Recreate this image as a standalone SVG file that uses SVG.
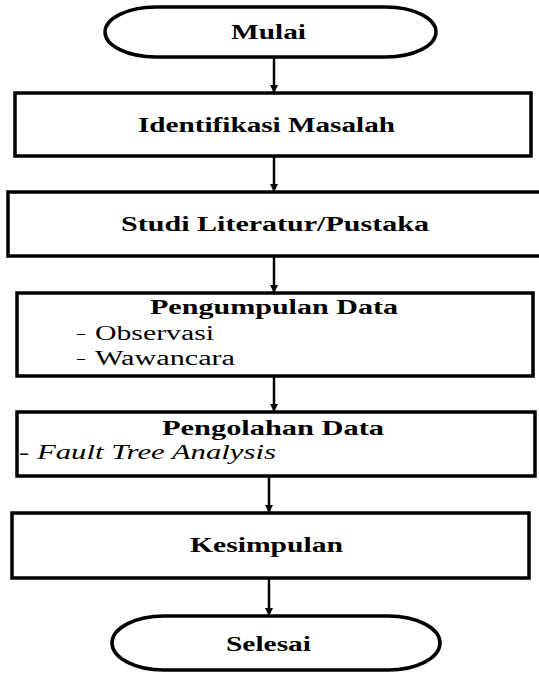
<svg xmlns="http://www.w3.org/2000/svg" width="539" height="673" viewBox="0 0 539 673">
<style>
.box{fill:#fff;stroke:#000;stroke-width:3.5}
.t{font-family:"Liberation Serif","Times New Roman",serif;font-size:20px;fill:#000}
.b{font-weight:bold}
.i{font-style:italic}
.con{stroke:#000;stroke-width:2.5;fill:none}
</style>
<defs>
<marker id="ah" markerWidth="8" markerHeight="8" refX="7" refY="4" orient="auto" markerUnits="userSpaceOnUse">
<path d="M0,0 L8,4 L0,8 Z" fill="#000"/>
</marker>
</defs>
<rect width="539" height="673" fill="#fff"/>
<g id="connectors">
<line class="con" x1="274" y1="57" x2="274" y2="92" marker-end="url(#ah)"/>
<line class="con" x1="274" y1="156" x2="274" y2="191" marker-end="url(#ah)"/>
<line class="con" x1="274" y1="256" x2="274" y2="292" marker-end="url(#ah)"/>
<line class="con" x1="274" y1="376" x2="274" y2="411" marker-end="url(#ah)"/>
<line class="con" x1="269" y1="476" x2="269" y2="512" marker-end="url(#ah)"/>
<line class="con" x1="269" y1="578" x2="269" y2="615" marker-end="url(#ah)"/>
</g>
<g id="mulai">
<path class="box" d="M156,7 H386 A50,25 0 0 1 386,57 H156 A51,25 0 0 1 156,7 Z"/>
<text class="t b" x="231" y="39" textLength="75" lengthAdjust="spacingAndGlyphs">Mulai</text>
</g>
<g id="identifikasi">
<rect class="box" x="15" y="93" width="516" height="63"/>
<text class="t b" x="138" y="132" textLength="257" lengthAdjust="spacingAndGlyphs">Identifikasi Masalah</text>
</g>
<g id="studi">
<rect class="box" x="8" y="192" width="540" height="64"/>
<text class="t b" x="121" y="231" textLength="308" lengthAdjust="spacingAndGlyphs">Studi Literatur/Pustaka</text>
</g>
<g id="pengumpulan">
<rect class="box" x="17" y="293" width="516" height="83"/>
<text class="t b" x="150" y="314" textLength="248" lengthAdjust="spacingAndGlyphs">Pengumpulan Data</text>
<text class="t" x="77" y="340" textLength="8" lengthAdjust="spacingAndGlyphs">–</text>
<text class="t" x="95" y="340" textLength="119" lengthAdjust="spacingAndGlyphs">Observasi</text>
<text class="t" x="77" y="365" textLength="8" lengthAdjust="spacingAndGlyphs">–</text>
<text class="t" x="95" y="365" textLength="140" lengthAdjust="spacingAndGlyphs">Wawancara</text>
</g>
<g id="pengolahan">
<rect class="box" x="17" y="412" width="518" height="64"/>
<text class="t b" x="162" y="435" textLength="222" lengthAdjust="spacingAndGlyphs">Pengolahan Data</text>
<text class="t" x="19" y="459" textLength="257" lengthAdjust="spacingAndGlyphs">- <tspan class="i">Fault Tree Analysis</tspan></text>
</g>
<g id="kesimpulan">
<rect class="box" x="12" y="513" width="517" height="65"/>
<text class="t b" x="190" y="552" textLength="153" lengthAdjust="spacingAndGlyphs">Kesimpulan</text>
</g>
<g id="selesai">
<path class="box" d="M164,616 H388 A52,27 0 0 1 388,670 H164 A52,27 0 0 1 164,616 Z"/>
<text class="t b" x="226" y="651" textLength="85" lengthAdjust="spacingAndGlyphs">Selesai</text>
</g>
</svg>
